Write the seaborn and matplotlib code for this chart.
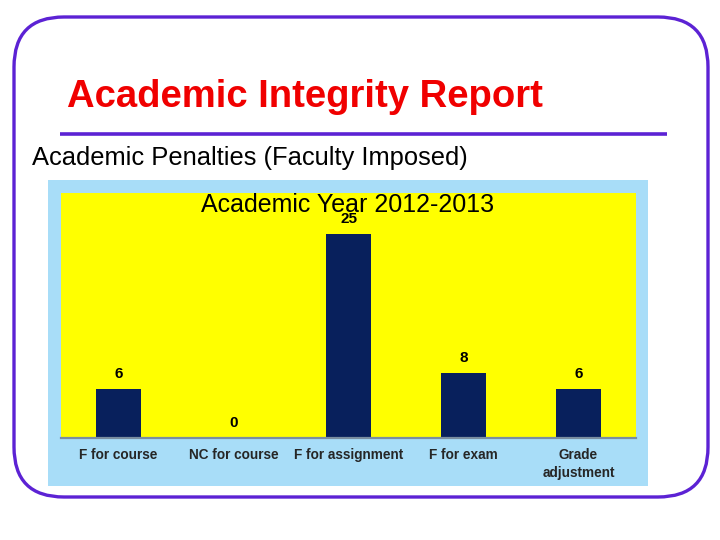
import matplotlib
matplotlib.use("Agg")
import matplotlib.pyplot as plt
import seaborn as sns
import pandas as pd
from matplotlib.patches import FancyBboxPatch, Rectangle

categories = ["F for course", "NC for course", "F for assignment", "F for exam", "Grade\nadjustment"]
values = [6, 0, 25, 8, 6]
slide_title = "Academic Integrity Report"
slide_subtitle = "Academic Penalties (Faculty Imposed)"
chart_title = "Academic Year 2012-2013"

sns.set_theme(style="white")
plt.rcParams['font.family'] = ['Liberation Sans', 'DejaVu Sans']

W, H = 720, 540
fig = plt.figure(figsize=(7.2, 5.4), dpi=100)
fig.patch.set_facecolor("white")

purple = "#5c22d4"
navy = "#08205c"
yellow = "#ffff00"
lightblue = "#a8ddf8"

# background overlay in pixel coords
bg = fig.add_axes([0, 0, 1, 1])
bg.set_xlim(0, W)
bg.set_ylim(H, 0)
bg.axis("off")
bg.set_zorder(0)
bg.add_patch(FancyBboxPatch((14, 17), 694, 480,
                            boxstyle="round,pad=0,rounding_size=50",
                            facecolor="white", edgecolor=purple, linewidth=2.4))
bg.plot([60, 667], [134, 134], color=purple, linewidth=2.6, solid_capstyle="butt")
bg.add_patch(Rectangle((48, 180), 600, 306, facecolor=lightblue, edgecolor="none"))
bg.text(67, 107, slide_title, color="#f00000", fontsize=27.5, fontweight="bold",
        ha="left", va="baseline")
bg.text(32, 165, slide_subtitle, color="black", fontsize=18.4,
        ha="left", va="baseline")

# chart axes
x0, x1, y_top, y_base = 61, 636, 193, 438
ax = fig.add_axes([x0 / W, (H - y_base) / H, (x1 - x0) / W, (y_base - y_top) / H])
ax.set_zorder(1)
ax.set_facecolor(yellow)
df = pd.DataFrame({"category": categories, "value": values})
sns.barplot(data=df, x="category", y="value", color=navy, width=0.39,
            saturation=1, ax=ax, edgecolor="none")
ax.set_xlim(-0.5, len(categories) - 0.5)
ax.set_ylim(0, 30)
ax.set_xlabel("")
ax.set_ylabel("")
ax.set_yticks([])
for s in ["top", "left", "right"]:
    ax.spines[s].set_visible(False)
ax.spines["bottom"].set_color("#7a8ea0")
ax.spines["bottom"].set_linewidth(1.6)
ax.tick_params(axis="x", length=0, pad=7, labelsize=9.8)
for lbl in ax.get_xticklabels():
    lbl.set_fontweight("bold")
    lbl.set_linespacing(1.35)

for i, v in enumerate(values):
    ax.annotate(str(v), xy=(i, v), xytext=(0, 8), textcoords="offset points",
                ha="center", va="baseline", fontsize=11, fontweight="bold",
                color="black")

# overlay for chart title drawn above the plot area
top = fig.add_axes([0, 0, 1, 1], facecolor="none")
top.set_xlim(0, W)
top.set_ylim(H, 0)
top.axis("off")
top.set_zorder(5)
top.text((x0 + x1) / 2 - 1, 212, chart_title, color="black", fontsize=18,
         ha="center", va="baseline")

fig.savefig("out.png", dpi=100, facecolor="white")
